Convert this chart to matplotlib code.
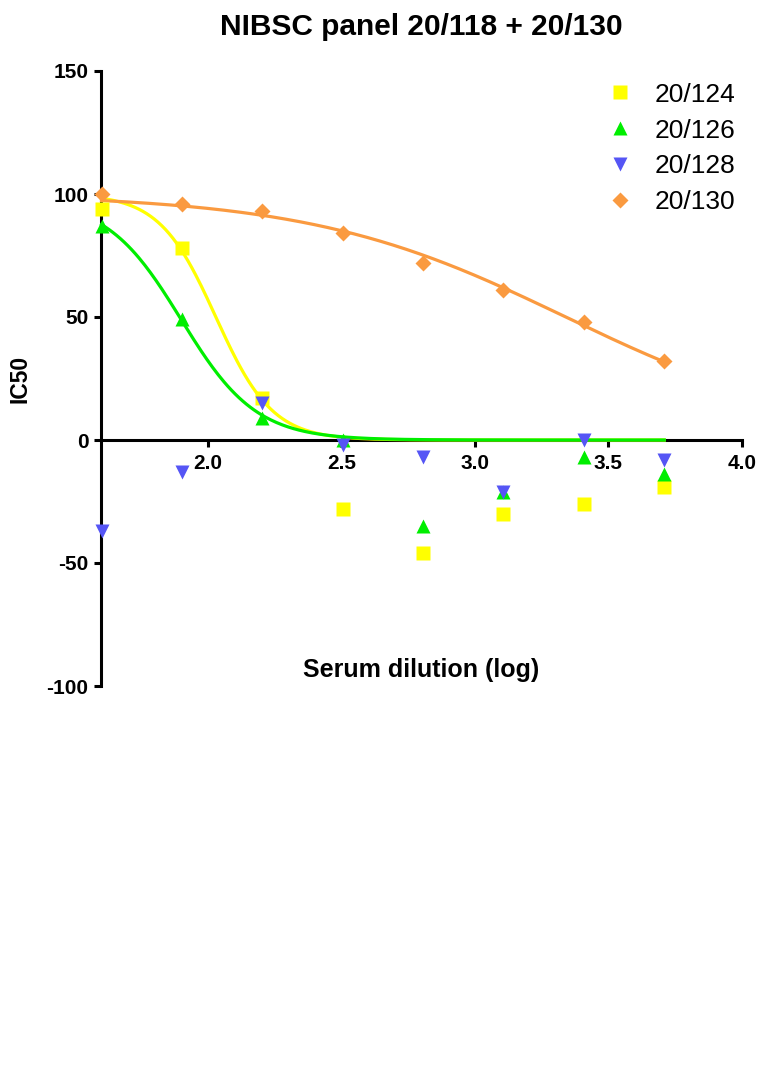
import numpy as np
import matplotlib
matplotlib.use("Agg")
import matplotlib.pyplot as plt

# log10 of serum dilution (1:40 ... 1:5120)
log_dilution = [1.602, 1.903, 2.204, 2.505, 2.806, 3.107, 3.408, 3.709]

labels = ["20/124", "20/126", "20/128", "20/130"]
ic50_124 = [94, 78, 17, -28, -46, -30, -26, -19]
ic50_126 = [87, 49, 9, 0, -35, -21, -7, -14]
ic50_128 = [-37, -13, 15, -2, -7, -21, 0, -8]
ic50_130 = [100, 96, 93, 84, 72, 61, 48, 32]

# fitted 4PL curves; 20/128 has no curve
fit_labels = ["20/124", "20/126", "20/130"]
fit_top = [100, 98, 100]
fit_bottom = [0, 0, 0]
fit_logic50 = [2.03, 1.90, 3.34]
fit_hill = [4.1, 3.1, 0.9]

colors = {"20/124": "#FFFF00", "20/126": "#00EE00", "20/128": "#5555F5", "20/130": "#FA9A40"}
markers = {"20/124": ("s", 9.6), "20/126": ("^", 9.4), "20/128": ("v", 9.4), "20/130": ("D", 8.4)}

plt.rcParams["font.family"] = ["Liberation Sans", "DejaVu Sans"]
plt.rcParams["axes.unicode_minus"] = False

fig = plt.figure(figsize=(7.68, 10.78), dpi=100)
W, H = 768, 1078
ax = fig.add_axes([101 / W, 1 - 686 / H, (742 - 101) / W, (686 - 71) / H])

# fitted curves
xs = np.linspace(log_dilution[0], log_dilution[-1], 300)
for name, top, bot, x50, h in zip(fit_labels, fit_top, fit_bottom, fit_logic50, fit_hill):
    ys = bot + (top - bot) / (1 + 10 ** ((xs - x50) * h))
    ax.plot(xs, ys, color=colors[name], lw=2.3, zorder=3, clip_on=False)

for name, vals in zip(labels, [ic50_124, ic50_126, ic50_128, ic50_130]):
    m, ms = markers[name]
    ax.plot(log_dilution, vals, ls="none", marker=m, ms=ms, color=colors[name],
            mec="none", label=name, zorder=4, clip_on=False)

ax.set_xlim(1.6, 4.0)
ax.set_ylim(-100, 150)
ax.spines["top"].set_visible(False)
ax.spines["right"].set_visible(False)
ax.spines["bottom"].set_position(("data", 0))
for s in ("left", "bottom"):
    ax.spines[s].set_linewidth(2.2)

ax.set_xticks([2.0, 2.5, 3.0, 3.5, 4.0])
ax.set_xticklabels(["2.0", "2.5", "3.0", "3.5", "4.0"])
ax.set_yticks([-100, -50, 0, 50, 100, 150])
ax.tick_params(axis="both", direction="out", length=5, width=2.2, labelsize=15)
ax.tick_params(axis="y", pad=4)
ax.tick_params(axis="x", pad=5)
for lab in ax.get_xticklabels() + ax.get_yticklabels():
    lab.set_fontweight("bold")

leg = ax.legend(loc="upper left", bbox_to_anchor=(0.789, 0.981), frameon=False,
                fontsize=19, handlelength=1.0, handletextpad=0.83, labelspacing=0.45,
                borderpad=0, borderaxespad=0)

fig.text(421.5 / W, 1 - 27 / H, "NIBSC panel 20/118 + 20/130", ha="center", va="center",
         fontsize=21.5, fontweight="bold")
fig.text(421.5 / W, 1 - 670 / H, "Serum dilution (log)", ha="center", va="center",
         fontsize=18, fontweight="bold")
fig.text(20 / W, 1 - 379 / H, "IC50", ha="center", va="center", rotation=90,
         fontsize=16.5, fontweight="bold")

fig.savefig("out.png", dpi=100)
